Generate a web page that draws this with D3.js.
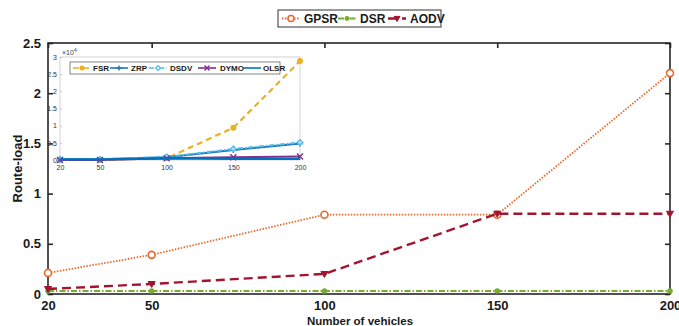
<!DOCTYPE html>
<html lang="en">
<head>
  <meta charset="UTF-8">
  <title>Route-load</title>
  <script src="https://d3js.org/d3.v7.min.js"></script>
  <style>
    body { margin: 0; background: #fff; }
    text { font-family: "Liberation Sans", Arial, sans-serif; }
  </style>
</head>
<body>
  <script>
    // main chart data
    const vehicles = [20, 50, 100, 150, 200];
    const gpsr = [0.21, 0.39, 0.79, 0.79, 2.2];
    const dsr = [0.03, 0.03, 0.03, 0.03, 0.03];
    const aodv = [0.05, 0.1, 0.2, 0.8, 0.8];
    const yTicks = [0, 0.5, 1, 1.5, 2, 2.5];

    // inset data (x 10^4)
    const fsr = [0, 0, 0.05, 0.94, 2.88];
    const zrp = [0.02, 0.02, 0.08, 0.29, 0.48];
    const dsdv = [0.02, 0.02, 0.09, 0.32, 0.51];
    const dymo = [0, 0, 0.05, 0.08, 0.1];
    const olsr = [0.02, 0.02, 0.05, 0.03, 0.03];
    const insetYTicks = [0, 0.5, 1, 1.5, 2, 2.5, 3];

    var svg = d3.select("body").append("svg")
      .attr("width", 679)
      .attr("height", 326);

    const mLeft = 48, mRight = 670, mTop = 43, mBottom = 294;

    const x = d3.scaleLinear().domain([20, 200]).range([mLeft, mRight]);
    const y = d3.scaleLinear().domain([0, 2.5]).range([mBottom, mTop]);

    const axisColor = "#262626";

    // box (MATLAB style)
    svg.append("rect")
      .attr("x", mLeft).attr("y", mTop)
      .attr("width", mRight - mLeft).attr("height", mBottom - mTop)
      .attr("fill", "none").attr("stroke", axisColor).attr("stroke-width", 1.6);

    // bottom axis
    svg.append("g")
      .attr("transform", "translate(0," + mBottom + ")")
      .call(d3.axisBottom(x).tickValues(vehicles).tickSize(-5).tickPadding(7).tickFormat(d3.format("d")));
    // left axis
    svg.append("g")
      .attr("transform", "translate(" + mLeft + ",0)")
      .call(d3.axisLeft(y).tickValues(yTicks).tickSize(-5).tickPadding(7).tickFormat(d => d));
    // top / right ticks
    svg.append("g")
      .attr("transform", "translate(0," + mTop + ")")
      .call(d3.axisTop(x).tickValues(vehicles).tickSize(-5).tickFormat(""));
    svg.append("g")
      .attr("transform", "translate(" + mRight + ",0)")
      .call(d3.axisRight(y).tickValues(yTicks).tickSize(-5).tickFormat(""));

    svg.selectAll(".domain").remove();
    svg.selectAll(".tick line").attr("stroke", axisColor).attr("stroke-width", 1.6);
    svg.selectAll(".tick text")
      .attr("fill", "#1a1a1a")
      .style("font-size", "13px")
      .style("font-weight", "bold");

    // series
    const mainSeries = [
      { name: "GPSR", values: gpsr, color: "#E8692C", dash: "1.5,1.5", width: 1.8, marker: "circle" },
      { name: "DSR", values: dsr, color: "#77AC30", dash: "6,2,1.5,2", width: 2, marker: "dot" },
      { name: "AODV", values: aodv, color: "#A2142F", dash: "9,5", width: 2.4, marker: "tri" }
    ];

    const line = d3.line().x((d, i) => x(vehicles[i])).y(d => y(d));

    function drawMarker(g, type, cx, cy, color, size) {
      if (type === "circle") {
        g.append("circle").attr("cx", cx).attr("cy", cy).attr("r", size)
          .attr("fill", "#fff").attr("stroke", color).attr("stroke-width", 1.6);
      } else if (type === "dot") {
        g.append("circle").attr("cx", cx).attr("cy", cy).attr("r", size * 0.8)
          .attr("fill", color);
      } else if (type === "tri") {
        const s = size;
        g.append("path")
          .attr("d", `M${cx - s},${cy - s * 0.7}L${cx + s},${cy - s * 0.7}L${cx},${cy + s}Z`)
          .attr("fill", color).attr("stroke", color).attr("stroke-width", 1);
      } else if (type === "fdot") {
        g.append("circle").attr("cx", cx).attr("cy", cy).attr("r", size)
          .attr("fill", color);
      } else if (type === "plus") {
        g.append("path")
          .attr("d", `M${cx - size},${cy}L${cx + size},${cy}M${cx},${cy - size}L${cx},${cy + size}`)
          .attr("stroke", color).attr("stroke-width", 1.4);
      } else if (type === "diamond") {
        g.append("path")
          .attr("d", `M${cx},${cy - size}L${cx + size},${cy}L${cx},${cy + size}L${cx - size},${cy}Z`)
          .attr("fill", "#fff").attr("fill-opacity", 0.6).attr("stroke", color).attr("stroke-width", 1.2);
      } else if (type === "cross") {
        g.append("path")
          .attr("d", `M${cx - size},${cy - size}L${cx + size},${cy + size}M${cx - size},${cy + size}L${cx + size},${cy - size}`)
          .attr("stroke", color).attr("stroke-width", 1.4);
      }
    }

    mainSeries.forEach(s => {
      const g = svg.append("g");
      g.append("path").datum(s.values)
        .attr("d", line)
        .attr("fill", "none")
        .attr("stroke", s.color)
        .attr("stroke-width", s.width)
        .attr("stroke-dasharray", s.dash);
      s.values.forEach((v, i) => drawMarker(g, s.marker, x(vehicles[i]), y(v), s.color, 3.5));
    });

    // main legend
    const leg = svg.append("g");
    leg.append("rect").attr("x", 278).attr("y", 10).attr("width", 163).attr("height", 17)
      .attr("fill", "#fff").attr("stroke", "#333").attr("stroke-width", 1);
    const legX = [282, 338, 388];
    const legText = [304, 360, 410];
    mainSeries.forEach((s, i) => {
      leg.append("line").attr("x1", legX[i]).attr("x2", legX[i] + 18).attr("y1", 18.5).attr("y2", 18.5)
        .attr("stroke", s.color).attr("stroke-width", s.width).attr("stroke-dasharray", s.dash);
      drawMarker(leg, s.marker, legX[i] + 9, 18.5, s.color, 3);
      leg.append("text").attr("x", legText[i]).attr("y", 23)
        .style("font-size", "12px").style("font-weight", "bold").attr("fill", "#1a1a1a")
        .text(s.name);
    });

    // axis labels
    svg.append("text")
      .attr("x", 360).attr("y", 325)
      .attr("text-anchor", "middle")
      .style("font-size", "11.5px").style("font-weight", "bold").attr("fill", "#1a1a1a")
      .text("Number of vehicles");

    svg.append("text")
      .attr("transform", "translate(22," + ((mTop + mBottom) / 2) + ")rotate(-90)")
      .attr("text-anchor", "middle")
      .style("font-size", "13px").style("font-weight", "bold").attr("fill", "#1a1a1a")
      .text("Route-load");

    // inset
    const iLeft = 60, iRight = 300, iTop = 57, iBottom = 160;
    const ix = d3.scaleLinear().domain([20, 200]).range([iLeft, iRight]);
    const iy = d3.scaleLinear().domain([0, 3]).range([iBottom, iTop]);

    const inset = svg.append("g");
    inset.append("rect")
      .attr("x", iLeft).attr("y", iTop)
      .attr("width", iRight - iLeft).attr("height", iBottom - iTop)
      .attr("fill", "#fff").attr("stroke", "#c8c8c8").attr("stroke-width", 0.8);

    inset.append("g")
      .attr("transform", "translate(0," + iBottom + ")")
      .call(d3.axisBottom(ix).tickValues(vehicles).tickSize(-2).tickPadding(5).tickFormat(d3.format("d")));
    inset.append("g")
      .attr("transform", "translate(" + iLeft + ",0)")
      .call(d3.axisLeft(iy).tickValues(insetYTicks).tickSize(-2).tickPadding(3).tickFormat(d => d));
    inset.selectAll(".domain").remove();
    inset.selectAll(".tick line").attr("stroke", "#bbb").attr("stroke-width", 0.8);
    inset.selectAll(".tick text")
      .attr("fill", "#333")
      .style("font-size", "7px")
      .style("font-weight", "normal");

    inset.append("text").attr("x", iLeft + 2).attr("y", iTop - 2)
      .style("font-size", "7px").attr("fill", "#444").text("×10");
    inset.append("text").attr("x", iLeft + 14).attr("y", iTop - 5)
      .style("font-size", "5px").attr("fill", "#444").text("4");

    const insetSeries = [
      { name: "FSR", values: fsr, color: "#EDB120", dash: "6,4", width: 2.2, marker: "fdot" },
      { name: "ZRP", values: zrp, color: "#1F77B4", dash: null, width: 2, marker: "plus" },
      { name: "DSDV", values: dsdv, color: "#4DBEEE", dash: "5,2,1.5,2", width: 2, marker: "diamond" },
      { name: "DYMO", values: dymo, color: "#7E2F8E", dash: null, width: 2, marker: "cross" },
      { name: "OLSR", values: olsr, color: "#0072BD", dash: null, width: 2.2, marker: null }
    ];

    const iline = d3.line().x((d, i) => ix(vehicles[i])).y(d => iy(d));

    insetSeries.forEach(s => {
      const g = inset.append("g");
      g.append("path").datum(s.values)
        .attr("d", iline)
        .attr("fill", "none")
        .attr("stroke", s.color)
        .attr("stroke-width", s.width)
        .attr("stroke-dasharray", s.dash);
      if (s.marker) s.values.forEach((v, i) => drawMarker(g, s.marker, ix(vehicles[i]), iy(v), s.color, 3));
    });

    // inset legend
    const ileg = inset.append("g");
    ileg.append("rect").attr("x", 70).attr("y", 62).attr("width", 210).attr("height", 12)
      .attr("fill", "#fff").attr("stroke", "#333").attr("stroke-width", 0.6);
    const ilegX = [73, 110, 149, 198, 243];
    const ilegT = [93, 131, 170, 220, 263];
    insetSeries.forEach((s, i) => {
      ileg.append("line").attr("x1", ilegX[i]).attr("x2", ilegX[i] + 18).attr("y1", 68).attr("y2", 68)
        .attr("stroke", s.color).attr("stroke-width", 1.6).attr("stroke-dasharray", s.dash);
      if (s.marker) drawMarker(ileg, s.marker, ilegX[i] + 9, 68, s.color, 2.5);
      ileg.append("text").attr("x", ilegT[i]).attr("y", 71)
        .style("font-size", "8px").style("font-weight", "bold").attr("fill", "#1a1a1a")
        .text(s.name);
    });
  </script>
</body>
</html>
